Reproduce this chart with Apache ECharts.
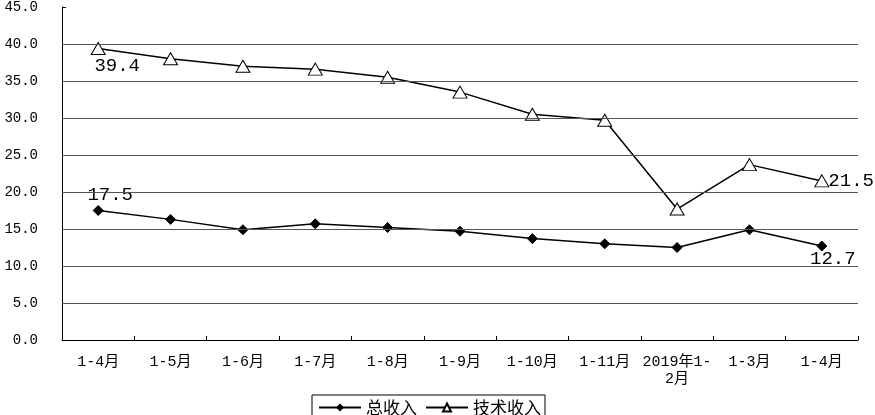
<!DOCTYPE html>
<html><head><meta charset="utf-8">
<script src="https://cdn.jsdelivr.net/npm/echarts@6/dist/echarts.min.js"></script>
<style>html,body{margin:0;padding:0;background:#fff}#c{width:875px;height:415px}</style>
</head><body><div id="c"></div>
<script>
const categories = ['1-4月','1-5月','1-6月','1-7月','1-8月','1-9月','1-10月','1-11月','2019年1-\n2月','1-3月','1-4月'];
const totalIncome = [17.5,16.3,14.9,15.7,15.2,14.7,13.7,13.0,12.5,14.9,12.7];
const techIncome = [39.4,38.0,37.0,36.6,35.5,33.5,30.5,29.7,17.7,23.7,21.5];
const gridValues = [5,10,15,20,25,30,35,40];
const seriesNames = ['总收入','技术收入'];

const labelFont = {fontFamily:'Liberation Mono', fontSize:19, color:'#000'};
function withEndLabels(arr, firstPos, lastPos, firstOff, lastOff){
  return arr.map((v,i)=>{
    if(i===0) return {value:v,label:Object.assign({show:true,position:firstPos,offset:firstOff,formatter:p=>p.value.toFixed(1)},labelFont)};
    if(i===arr.length-1) return {value:v,label:Object.assign({show:true,position:lastPos,offset:lastOff,formatter:p=>p.value.toFixed(1)},labelFont)};
    return v;
  });
}
const chart = echarts.init(document.getElementById('c'));
chart.setOption({
  animation:false,
  grid:{left:62,right:17,top:5,bottom:75},
  legend:{
    left:312, top:395, padding:[4,4,4,6], itemGap:8, itemWidth:42, itemHeight:10,
    borderColor:'#000', borderWidth:1, borderRadius:0,
    textStyle:{fontFamily:'Noto Sans CJK SC', fontSize:17, color:'#000'},
    data:seriesNames
  },
  xAxis:{
    type:'category', data:categories, boundaryGap:true,
    axisLine:{lineStyle:{color:'#000',width:1}},
    axisTick:{show:true,inside:true,length:4,lineStyle:{color:'#000'}},
    axisLabel:{interval:0,fontFamily:'Liberation Mono, Noto Sans CJK SC',fontSize:15,color:'#000',margin:14,lineHeight:17}
  },
  yAxis:{
    type:'value', min:0, max:45, interval:5,
    axisLine:{show:true,lineStyle:{color:'#000',width:1}},
    axisTick:{show:true,inside:true,length:4,lineStyle:{color:'#000'}},
    splitLine:{show:false},
    axisLabel:{formatter:v=>v.toFixed(1),fontFamily:'Liberation Mono',fontSize:14,color:'#000',margin:24}
  },
  series:[
    {
      name:seriesNames[0], type:'line', data:withEndLabels(totalIncome,'top','bottom',[12,4],[11,-7]),
      symbol:'diamond', symbolSize:10,
      lineStyle:{color:'#000',width:1.5}, itemStyle:{color:'#000',borderColor:'#000'},
      markLine:{silent:true,symbol:'none',label:{show:false},animation:false,
        lineStyle:{color:'#555',width:1,type:'solid'},
        data:gridValues.map(v=>({yAxis:v}))},
      z:3
    },
    {
      name:seriesNames[1], type:'line', data:withEndLabels(techIncome,'bottom','right',[19,-3],[-6,0]),
      symbol:'triangle', symbolSize:[14,12],
      lineStyle:{color:'#000',width:1.5}, itemStyle:{color:'#fff',borderColor:'#000',borderWidth:1},
      z:3
    }
  ]
});
</script></body></html>
